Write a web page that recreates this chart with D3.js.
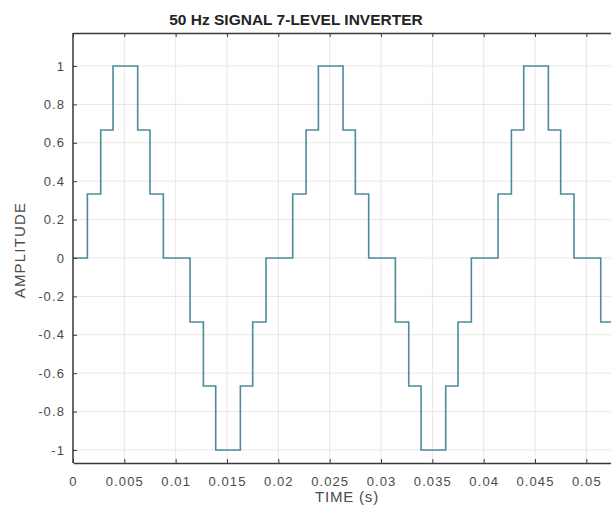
<!DOCTYPE html>
<html>
<head>
<meta charset="utf-8">
<script src="https://cdn.jsdelivr.net/npm/d3@7"></script>
<style>
html,body{margin:0;padding:0;background:#fff;overflow:hidden;}
svg{display:block;}
</style>
</head>
<body>
<svg id="chart" width="611" height="520"></svg>
<script>
// ---- data ----
const stepTimes = [0, 0.0014, 0.0027, 0.0039, 0.0063, 0.0075, 0.0088, 0.0114, 0.0127, 0.0139, 0.0163, 0.0175, 0.0188,
  0.0214, 0.0227, 0.0239, 0.0263, 0.0275, 0.0288, 0.0314, 0.0327, 0.0339, 0.0363, 0.0375, 0.0388,
  0.0414, 0.0427, 0.0439, 0.0463, 0.0475, 0.0488, 0.0514, 0.0527, 0.0539, 0.0563];
const stepLevels = [0, 1/3, 2/3, 1, 2/3, 1/3, 0, -1/3, -2/3, -1, -2/3, -1/3, 0,
  1/3, 2/3, 1, 2/3, 1/3, 0, -1/3, -2/3, -1, -2/3, -1/3, 0,
  1/3, 2/3, 1, 2/3, 1/3, 0, -1/3, -2/3, -1, -2/3];
const xTicks = [0, 0.005, 0.01, 0.015, 0.02, 0.025, 0.03, 0.035, 0.04, 0.045, 0.05];
const xTickLabels = ["0", "0.005", "0.01", "0.015", "0.02", "0.025", "0.03", "0.035", "0.04", "0.045", "0.05"];
const yTicks = [-1, -0.8, -0.6, -0.4, -0.2, 0, 0.2, 0.4, 0.6, 0.8, 1];
const yTickLabels = ["-1", "-0.8", "-0.6", "-0.4", "-0.2", "0", "0.2", "0.4", "0.6", "0.8", "1"];
const titleText = "50 Hz SIGNAL 7-LEVEL INVERTER";
const xLabel = "TIME (s)";
const yLabel = "AMPLITUDE";

(function () {
// ---- layout ----
const svg = d3.select("#chart");
const pLeft = 73, pTop = 33, pBottom = 463;
const pxPerSec = 10267;
const xMax = 0.058;
const x = d3.scaleLinear().domain([0, xMax]).range([pLeft, pLeft + xMax * pxPerSec]);
const y = d3.scaleLinear().domain([-1, 1]).range([450, 66]);
const pRight = x(xMax);

const font = "Arial, 'Liberation Sans', Helvetica, sans-serif";
const gridColor = "#e6e6e6";
const axisColor = "#3a3a3a";
const textColor = "#4a4a4a";

// grid
svg.append("g").selectAll("line").data(xTicks).join("line")
  .attr("x1", d => x(d)).attr("x2", d => x(d)).attr("y1", pTop).attr("y2", pBottom)
  .attr("stroke", gridColor).attr("stroke-width", 1);
svg.append("g").selectAll("line").data(yTicks).join("line")
  .attr("x1", pLeft).attr("x2", pRight).attr("y1", d => y(d)).attr("y2", d => y(d))
  .attr("stroke", gridColor).attr("stroke-width", 1);

// signal
const pts = stepTimes.map((t, i) => [t, stepLevels[i]]);
const line = d3.line().x(d => x(d[0])).y(d => y(d[1])).curve(d3.curveStepAfter);
svg.append("path").datum(pts)
  .attr("d", line)
  .attr("fill", "none")
  .attr("stroke", "#4d8a9c")
  .attr("stroke-width", 1.6);

// axes (MATLAB style, ticks inward)
const xAxisB = d3.axisBottom(x).tickValues(xTicks).tickFormat((d, i) => xTickLabels[i]).tickSizeInner(-4).tickSizeOuter(0).tickPadding(14);
const gxb = svg.append("g").attr("transform", `translate(0,${pBottom})`).call(xAxisB);
const xAxisT = d3.axisTop(x).tickValues(xTicks).tickFormat("").tickSizeInner(-4).tickSizeOuter(0);
const gxt = svg.append("g").attr("transform", `translate(0,${pTop})`).call(xAxisT);
const yAxisL = d3.axisLeft(y).tickValues(yTicks).tickFormat((d, i) => yTickLabels[i]).tickSizeInner(-4).tickSizeOuter(0).tickPadding(8);
const gyl = svg.append("g").attr("transform", `translate(${pLeft},0)`).call(yAxisL);
gyl.select(".domain").attr("d", `M0,${pTop}V${pBottom}`);

[gxb, gxt, gyl].forEach(g => {
  g.select(".domain").attr("stroke", axisColor).attr("stroke-width", 1.5);
  g.selectAll(".tick line").attr("stroke", axisColor).attr("stroke-width", 1);
  g.selectAll(".tick text").attr("fill", textColor).attr("font-family", font)
    .attr("font-size", 13).attr("letter-spacing", "1.1px");
});

// title
svg.append("text").attr("x", 296).attr("y", 25).attr("text-anchor", "middle")
  .attr("font-family", font).attr("font-weight", "bold").attr("font-size", 15.5)
  .attr("fill", "#222").attr("letter-spacing", "0px").text(titleText);

// x label
svg.append("text").attr("x", 347).attr("y", 502).attr("text-anchor", "middle")
  .attr("font-family", font).attr("font-size", 15).attr("letter-spacing", "0.8px")
  .attr("fill", textColor).text(xLabel);

// y label
svg.append("text").attr("transform", "translate(25,250) rotate(-90)").attr("text-anchor", "middle")
  .attr("font-family", font).attr("font-size", 15).attr("letter-spacing", "1.2px")
  .attr("fill", textColor).text(yLabel);
})();
</script>
</body>
</html>
